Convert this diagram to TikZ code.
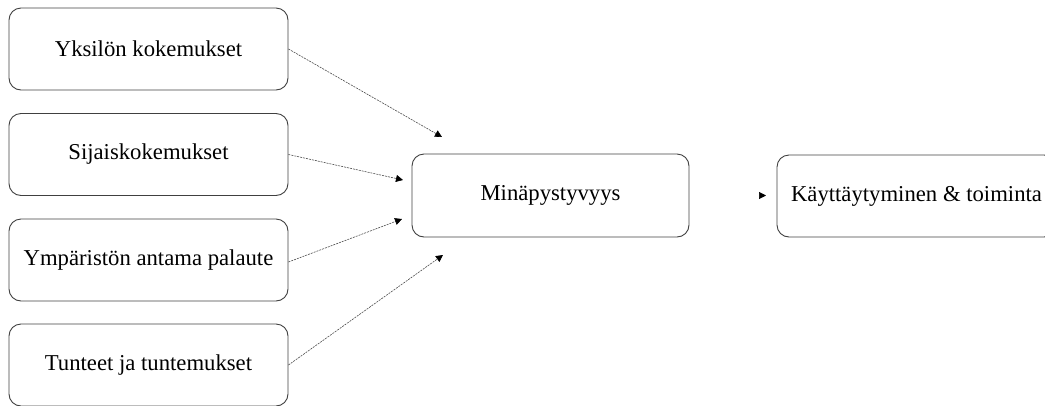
\documentclass[tikz,border=0pt]{standalone}
\usepackage{fontspec}
\setmainfont{Liberation Serif}
\usetikzlibrary{arrows.meta}
\begin{document}
\begin{tikzpicture}[x=1pt,y=-1pt,
  box/.style={draw=black!75, line width=0.9pt, rounded corners=12pt,
    minimum width=279pt, minimum height=82pt, inner sep=0pt,
    font=\fontsize{22.7}{27}\selectfont},
  tip/.style={-{Triangle[length=7pt,width=7pt,black]}},
  link/.style={draw=black!70, line width=0.6pt, dash pattern=on 2pt off 1pt, tip}
]
\useasboundingbox (0,0) rectangle (1045,405);
% source boxes
\node[box] (b1) at (148.5,49)  {Yksilön kokemukset};
\node[box] (b2) at (148.5,154.5) {Sijaiskokemukset};
\node[box] (b3) at (148.5,260) {Ympäristön antama palaute};
\node[box] (b4) at (148.5,365) {Tunteet ja tuntemukset};
% central and outcome boxes
\node[box, minimum width=277pt, minimum height=83pt] (m) at (550.5,195.5) {Minäpystyvyys};
\node[box, minimum height=82pt] (k) at (916.5,196) {Käyttäytyminen \& toiminta};
% arrow end points
\coordinate (t1) at (442,137);
\coordinate (t2) at (403,180);
\coordinate (t3) at (402,219);
\coordinate (t4) at (443,255);
\coordinate (t5) at (766,195.5);
\draw[link] (b1.east) -- (t1);
\draw[link] (b2.east) -- (t2);
\draw[link] ([yshift=-2pt]b3.east) -- (t3);
\draw[link] (b4.east) -- (t4);
% outcome arrow: only its head shows
\draw[draw=white, line width=0.6pt, tip] ([xshift=2pt]m.east) -- (t5);
\end{tikzpicture}
\end{document}
